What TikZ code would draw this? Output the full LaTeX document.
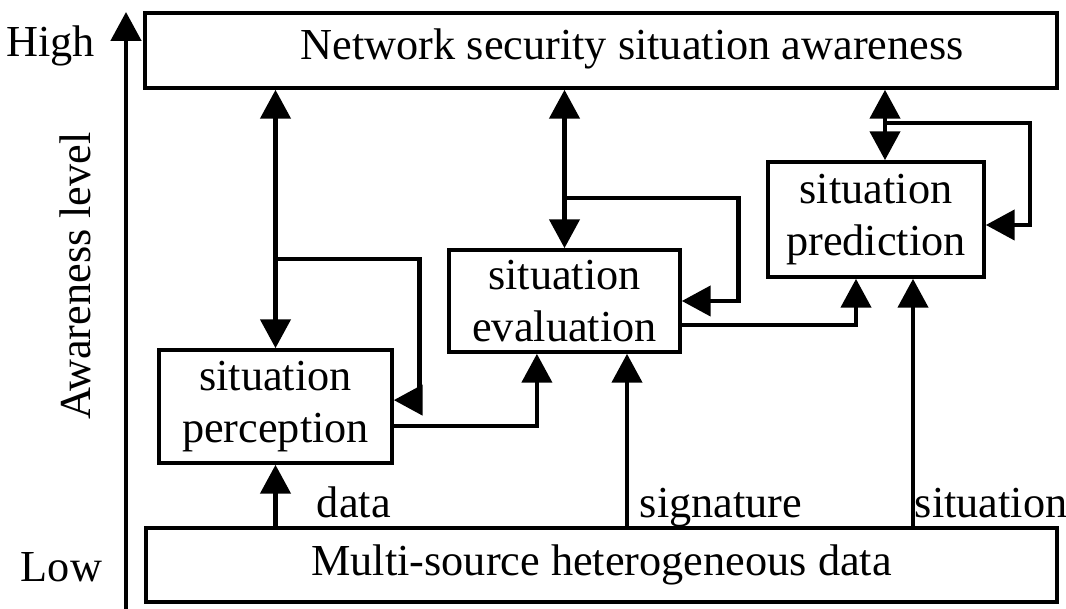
\documentclass[tikz,border=0pt]{standalone}
\usepackage{fontspec}
\setmainfont{Liberation Serif}
\usetikzlibrary{arrows.meta}
\begin{document}
\begin{tikzpicture}[>={Triangle[length=0.72cm,width=0.75cm]}, font=\fontsize{31.5}{37}\selectfont, line join=miter]
	\tikzset{box/.style={draw, line width=2.6pt, inner sep=0pt, align=center},
		link/.style={line width=3pt}}
	\useasboundingbox (0,0) rectangle (26.65,15.225);
	% layers
	\node[box, minimum width=22.8cm, minimum height=1.875cm] (aware) at (15.025,13.9625) {};
	\node (awaretext) at ([xshift=0.78cm,yshift=0.05cm]aware.center) {Network security situation awareness};
	\node[box, minimum width=22.775cm, minimum height=1.85cm] (multi) at (15.0375,1.1) {Multi-source heterogeneous data};
	\node[box, minimum width=5.825cm, minimum height=2.825cm] (perc) at (6.8875,5.0625) {situation\\perception};
	\node[box, minimum width=5.775cm, minimum height=2.55cm] (eval) at (14.1125,7.7) {situation\\evaluation};
	\node[box, minimum width=5.4cm, minimum height=2.875cm] (pred) at (21.9,9.7375) {situation\\prediction};
	% awareness axis
	\coordinate (axlow) at (3.15,0);
	\coordinate (axhigh) at (3.15,14.925);
	\draw[link, ->] (axlow) -- (axhigh);
	\node[anchor=base east] (high) at (2.5,13.8) {High};
	\node[anchor=base east] (low) at (2.675,0.675) {Low};
	\node[rotate=90] (level) at (1.875,8.325) {Awareness level};
	% perception
	\draw[link, <->] (perc.north) -- (perc.north |- aware.south);
	\coordinate (perctap) at ([yshift=2.225cm]perc.north);
	\draw[link, ->] (perctap) -- ++(3.6,0) |- ([yshift=0.16cm]perc.east);
	\draw[link, ->] ([yshift=-0.49cm]perc.east) -| ([xshift=-0.69cm]eval.south);
	% evaluation
	\draw[link, <->] (eval.north) -- (eval.north |- aware.south);
	\coordinate (evaltap) at ([yshift=1.25cm]eval.north);
	\draw[link, ->] (evaltap) -- ++(4.35,0) |- (eval.east);
	\draw[link, ->] ([yshift=-0.6cm]eval.east) -| ([xshift=-0.5cm]pred.south);
	% prediction
	\coordinate (predtop) at ([xshift=0.225cm]pred.north);
	\draw[link, <->] (predtop) -- (predtop |- aware.south);
	\coordinate (predtap) at ([yshift=0.925cm]predtop);
	\draw[link, ->] (predtap) -- ++(3.625,0) |- ([yshift=-0.1375cm]pred.east);
	% inputs from the data layer
	\coordinate (sigin) at ([xshift=1.5625cm]eval.south);
	\coordinate (sitin) at ([xshift=0.925cm]pred.south);
	\draw[link, ->] (perc.south |- multi.north) -- (perc.south);
	\draw[link, ->] (sigin |- multi.north) -- (sigin);
	\draw[link, ->] (sitin |- multi.north) -- (sitin);
	\node[anchor=base west] (datalbl) at (7.8,2.275) {data};
	\node[anchor=base west] (siglbl) at (15.875,2.275) {signature};
	\node[anchor=base west] (sitlbl) at (22.75,2.275) {situation};
\end{tikzpicture}
\end{document}
